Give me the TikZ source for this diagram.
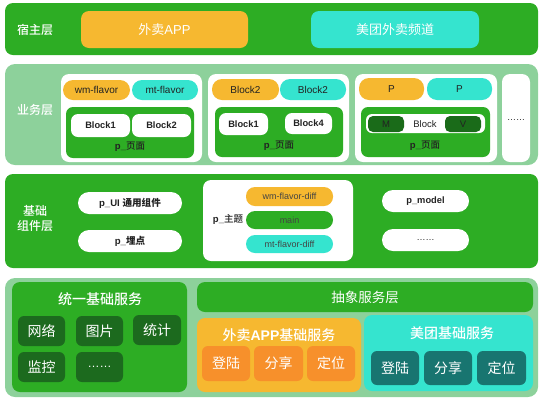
\documentclass[tikz,border=0pt]{standalone}
\usepackage{fontspec}
\setmainfont{Noto Sans CJK SC}
\newfontfamily\med{Noto Sans CJK SC Medium}
\newfontfamily\lat{Liberation Sans}
\newcommand\la[1]{{\lat #1}}
\definecolor{G}{HTML}{2DAD24}
\definecolor{LG}{HTML}{8DD19B}
\definecolor{OR}{HTML}{F6B830}
\definecolor{CY}{HTML}{35E4CF}
\definecolor{DG}{HTML}{1C6A1E}
\definecolor{MV}{HTML}{1A6B19}
\definecolor{OD}{HTML}{F7902B}
\definecolor{TD}{HTML}{187570}
\definecolor{TX}{HTML}{222222}
\newcommand\bx[7]{\node[#6,minimum width={(#4-#2)*1pt},minimum height={(#5-#3)*1pt}] (#1) at ({(#2+#4)/2},{(#3+#5)/2}) {#7};}
\begin{document}
\begin{tikzpicture}[x=1pt,y=-1pt,
  bb/.style={rectangle,inner sep=0pt,outer sep=0pt,rounded corners=8pt},
  layer/.style={bb,fill=G},
  llayer/.style={bb,fill=LG,rounded corners=10pt},
  panel/.style={bb,fill=white},
  pill/.style={bb,rounded corners=10pt,font=\fontsize{10}{11}\selectfont\lat,text=TX},
  blk/.style={bb,fill=white,rounded corners=7pt,font=\fontsize{9.3}{11}\selectfont\lat\bfseries,text=TX},
  lbl/.style={inner sep=0pt,text=white,font=\fontsize{12}{15}\selectfont\med,align=center},
  big/.style={bb,text=white,font=\fontsize{13}{15}\selectfont},
  svc/.style={bb,rounded corners=6pt,text=white,font=\fontsize{14}{16}\selectfont},
  ttl/.style={inner sep=0pt,text=white,font=\fontsize{14}{16}\selectfont\med},
  small/.style={inner sep=0pt,text=TX,font=\fontsize{9.5}{11}\selectfont\med},
  thin/.style={bb,rounded corners=9pt,font=\fontsize{9}{11}\selectfont\lat,text=TX!85},
  dots/.style={inner sep=0pt,text=TX,font=\fontsize{9}{9}\selectfont\lat}
]
\useasboundingbox (0,0) rectangle (545,400);
% host layer
\bx{host}{5}{3}{538}{55}{layer}{}
\node[lbl] (hostl) at (35,30) {宿主层};
\bx{hosta}{81}{11}{248}{48}{big,fill=OR}{外卖\la{APP}}
\bx{hostb}{311}{11}{479}{48}{big,fill=CY}{美团外卖频道}
% business layer
\bx{biz}{5}{64}{538}{165}{llayer}{}
\node[lbl] (bizl) at (35,110) {业务层};
\bx{p1}{61}{74}{202}{162}{panel}{}
\bx{p1a}{63}{80}{130}{100}{pill,fill=OR}{wm-flavor}
\bx{p1b}{132}{80}{198}{100}{pill,fill=CY}{mt-flavor}
\bx{g1}{66}{107}{194}{158}{bb,fill=G,rounded corners=7pt}{}
\bx{b11}{71}{114}{130}{137}{blk}{Block1}
\bx{b12}{132}{114}{191}{137}{blk}{Block2}
\node[small] (pg1) at (130,147) {\la{\bfseries p\_}页面};
\bx{p2}{208}{74}{349}{162}{panel}{}
\bx{p2a}{212}{79}{279}{100}{pill,fill=OR}{Block2}
\bx{p2b}{280}{79}{346}{100}{pill,fill=CY}{Block2}
\bx{g2}{215}{107}{343}{157}{bb,fill=G,rounded corners=7pt}{}
\bx{b21}{219}{113}{268}{135}{blk}{Block1}
\bx{b22}{285}{113}{332}{134}{blk}{Block4}
\node[small] (pg2) at (279,146) {\la{\bfseries p\_}页面};
\bx{p3}{355}{74}{497}{162}{panel}{}
\bx{p3a}{359}{78}{424}{100}{pill,fill=OR}{P}
\bx{p3b}{427}{78}{492}{100}{pill,fill=CY}{P}
\bx{g3}{361}{107}{490}{157}{bb,fill=G,rounded corners=7pt}{}
\bx{bar}{366}{114}{485}{133}{blk,rounded corners=6pt}{}
\bx{mm}{368}{116}{404}{132}{blk,fill=MV,rounded corners=5pt,font=\fontsize{9.5}{11}\selectfont\lat}{M}
\bx{vv}{445}{116}{481}{132}{blk,fill=MV,rounded corners=5pt,font=\fontsize{9.5}{11}\selectfont\lat}{V}
\node[small,font=\fontsize{9.5}{11}\selectfont\lat] (blk3) at (425,124) {Block};
\node[small] (pg3) at (425,146) {\la{\bfseries p\_}页面};
\bx{p4}{502}{74}{530}{162}{panel}{}
\node[dots] (p4d) at (516,120) {……};
% base component layer
\bx{base}{5}{174}{538}{268}{layer}{}
\node[lbl] (basel) at (35,218) {基础\\组件层};
\bx{pui}{78}{192}{182}{214}{blk,rounded corners=11pt,font=\fontsize{9.6}{11}\selectfont\lat\bfseries}{p\_UI {\med 通用组件}}
\bx{pmd}{78}{230}{182}{252}{blk,rounded corners=11pt,font=\fontsize{9.6}{11}\selectfont\lat\bfseries}{p\_{\med 埋点}}
\bx{theme}{203}{180}{353}{261}{panel}{}
\node[small,font=\fontsize{9.5}{11}\selectfont\med] (themel) at (228,219) {\la{\bfseries p\_}主题};
\bx{wmd}{246}{187}{333}{206}{thin,fill=OR}{wm-flavor-diff}
\bx{mnd}{246}{211}{333}{229}{thin,fill=G}{main}
\bx{mtd}{246}{235}{333}{253}{thin,fill=CY}{mt-flavor-diff}
\bx{pmodel}{382}{190}{469}{212}{blk,rounded corners=11pt}{p\_model}
\bx{pdots}{382}{229}{469}{251}{blk,rounded corners=11pt,font=\fontsize{9}{9}\selectfont\lat}{……}
% service layer
\bx{svcl}{5}{278}{538}{397}{llayer}{}
\bx{uni}{12}{282}{187}{392}{layer}{}
\node[ttl] (unit) at (100,299) {统一基础服务};
\bx{u1}{18}{316}{65}{346}{svc,fill=DG}{网络}
\bx{u2}{76}{316}{123}{346}{svc,fill=DG}{图片}
\bx{u3}{133}{315}{181}{345}{svc,fill=DG}{统计}
\bx{u4}{18}{352}{65}{382}{svc,fill=DG}{监控}
\bx{u5}{76}{352}{123}{382}{svc,fill=DG,font=\fontsize{12}{12}\selectfont\lat}{……}
\bx{abs}{197}{282}{533}{312}{big,fill=G,font=\fontsize{13.5}{15}\selectfont}{抽象服务层}
\bx{wms}{197}{318}{361}{392}{layer,fill=OR}{}
\node[ttl] (wmst) at (279,335) {外卖\la{\bfseries APP}基础服务};
\bx{w1}{202}{346}{250}{381}{svc,fill=OD}{登陆}
\bx{w2}{254}{346}{303}{381}{svc,fill=OD}{分享}
\bx{w3}{307}{346}{355}{381}{svc,fill=OD}{定位}
\bx{mts}{364}{315}{533}{391}{layer,fill=CY}{}
\node[ttl] (mtst) at (452,333) {美团基础服务};
\bx{m1}{371}{351}{419}{385}{svc,fill=TD}{登陆}
\bx{m2}{424}{351}{472}{385}{svc,fill=TD}{分享}
\bx{m3}{477}{351}{526}{385}{svc,fill=TD}{定位}
\end{tikzpicture}
\end{document}
